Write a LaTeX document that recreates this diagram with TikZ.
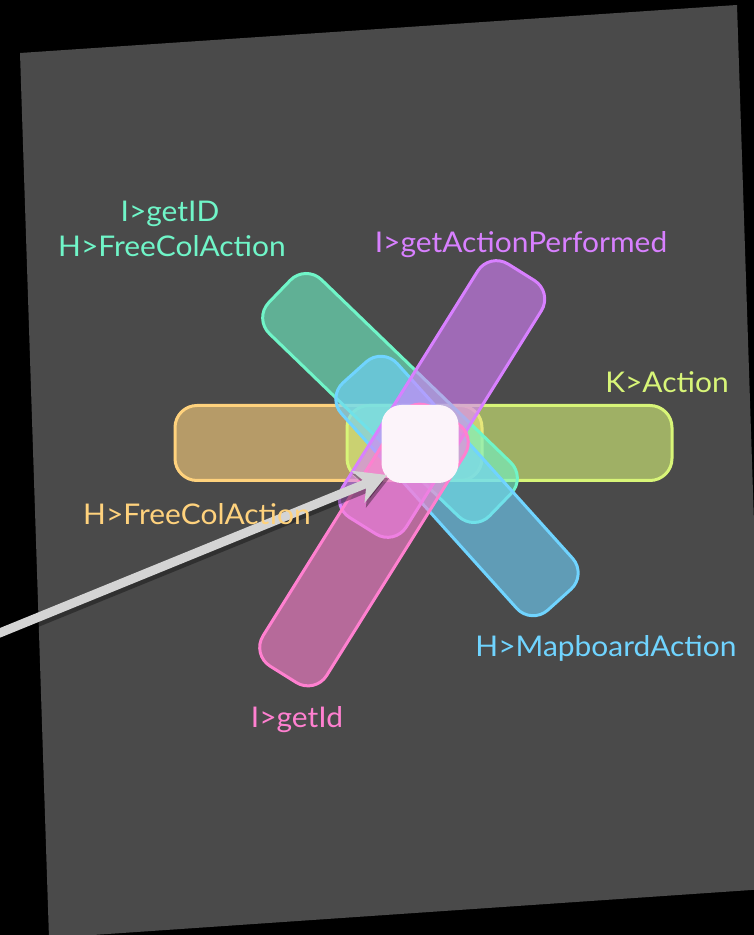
\documentclass[tikz,border=0pt]{standalone}
\usepackage{fontspec}
\setmainfont{Lato}[FakeStretch=1.05]
\usetikzlibrary{arrows.meta}

\definecolor{panelgray}{RGB}{74,74,74}
\definecolor{orangeC}{RGB}{255,210,125}
\definecolor{limeC}{RGB}{216,245,120}
\definecolor{tealC}{RGB}{112,245,200}
\definecolor{purpleC}{RGB}{216,128,255}
\definecolor{pinkC}{RGB}{255,128,208}
\definecolor{blueC}{RGB}{112,212,255}
\definecolor{coreC}{RGB}{252,244,250}
\definecolor{arrowC}{RGB}{212,212,212}

\tikzset{
  bar/.style={draw=#1, fill=#1, fill opacity=0.6, line width=3pt,
    rounded corners=22pt, minimum height=75pt, inner sep=0pt},
  corebox/.style={fill=coreC, rounded corners=20pt, minimum width=77pt,
    minimum height=78pt, inner sep=0pt},
  lbl/.style={text=#1, anchor=base, inner sep=0pt,
    font=\fontsize{28.5}{34}\selectfont},
  pointer/.style={draw=arrowC, line width=9pt,
    -{Stealth[length=31pt, width=34pt, inset=9pt]}},
  pointershadow/.style={draw=black, draw opacity=0.35, fill opacity=0.35,
    line width=10pt, -{Stealth[length=32pt, width=36pt, inset=9pt]}}
}

\begin{document}
\begin{tikzpicture}[x=1pt,y=1pt]
  % black backdrop and tilted slide
  \fill[black] (0,0) rectangle (754,935);
  \useasboundingbox (0,0) rectangle (754,935);
  \fill[panelgray] (20,882) -- (737,930) -- (766,46) -- (49,-3) -- cycle;

  % the six translucent bars
  \node[bar=orangeC, minimum width=307pt] (orangebar) at (328.5,492) {};
  \node[bar=limeC, minimum width=325pt] (limebar) at (509.5,492) {};
  \node[bar=tealC, minimum width=307pt, rotate=-44] (tealbar) at (390,537) {};
  \node[bar=blueC, minimum width=306pt, rotate=-48] (bluebar) at (457,449) {};
  \node[bar=purpleC, minimum width=299pt, rotate=58] (purplebar) at (442,536) {};
  \node[bar=pinkC, minimum width=305pt, rotate=58] (pinkbar) at (364,390) {};

  % white hub
  \node[corebox] (core) at (420,491) {};

  % pointer from the left edge, with its soft shadow
  \coordinate (tail) at (-20,294);
  \coordinate (tip) at (387,460);
  \coordinate (tailsh) at (-18,290.5);
  \coordinate (tipsh) at (389,456.5);
  \draw[pointershadow] (tailsh) -- (tipsh);
  \draw[pointer] (tail) -- (tip);

  % labels
  \node[lbl=tealC] (tealA) at (170,713) {I>getID};
  \node[lbl=tealC] (tealB) at (172,678) {H>FreeColAction};
  \node[lbl=purpleC] (purplelbl) at (521,682) {I>getActionPerformed};
  \node[lbl=limeC] (limelbl) at (667,542) {K>Action};
  \node[lbl=orangeC] (orangelbl) at (197,410) {H>FreeColAction};
  \node[lbl=blueC] (bluelbl) at (606,278) {H>MapboardAction};
  \node[lbl=pinkC] (pinklbl) at (297,207) {I>getId};
\end{tikzpicture}
\end{document}
